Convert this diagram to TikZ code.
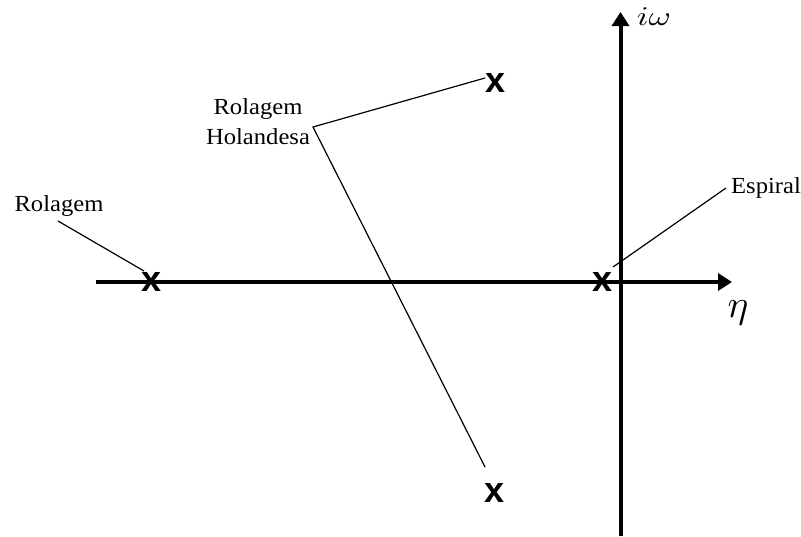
\documentclass[tikz,border=0pt]{standalone}
\usepackage{fontspec}
\setmainfont{Liberation Serif}
\newfontfamily\xmfont{Liberation Sans}
\usetikzlibrary{arrows.meta}
\tikzset{
  axisline/.style={line width=4pt,-{Triangle[length=14pt,width=17pt]}},
  leader/.style={line width=1.2pt},
  polemark/.style={inner sep=0pt,font=\xmfont\bfseries\fontsize{36}{36}\selectfont},
  lbl/.style={inner sep=0pt,font=\fontsize{23}{30}\selectfont,align=center,xscale=1.07},
  axlbl/.style={inner sep=0pt},
}
\begin{document}
\begin{tikzpicture}[x=1pt,y=-1pt]
\useasboundingbox (0,0) rectangle (801,536);
% axes
\coordinate (hstart) at (96,282);
\coordinate (hend) at (732,282);
\coordinate (vstart) at (620.5,536);
\coordinate (vend) at (620.5,12);
\draw[axisline] (hstart) -- (hend);
\draw[axisline] (vstart) -- (vend);
\node[axlbl,xscale=3.4,yscale=2.7] (iw) at (654,17) {$i\omega$};
\node[axlbl,scale=3.9] (eta) at (738,313) {$\eta$};
% poles
\node[polemark] (xr) at (152,282) {x};
\node[polemark] (xs) at (603,282) {x};
\node[polemark] (xt) at (496,83) {x};
\node[polemark] (xb) at (495,493) {x};
% labels
\node[lbl] (rl) at (59,205.5) {Rolagem};
\node[lbl] (rh) at (258,122) {Rolagem\\Holandesa};
\node[lbl] (es) at (766,187.5) {Espiral};
% leaders
\coordinate (rla) at (58,221);
\coordinate (rlb) at (144,271);
\draw[leader] (rla) -- (rlb);
\coordinate (hv) at (313,127);
\coordinate (hta) at (485,78);
\coordinate (hba) at (485,467);
\draw[leader] (hta) -- (hv) -- (hba);
\coordinate (esa) at (726,188);
\coordinate (esb) at (613,267);
\draw[leader] (esa) -- (esb);
\end{tikzpicture}
\end{document}
